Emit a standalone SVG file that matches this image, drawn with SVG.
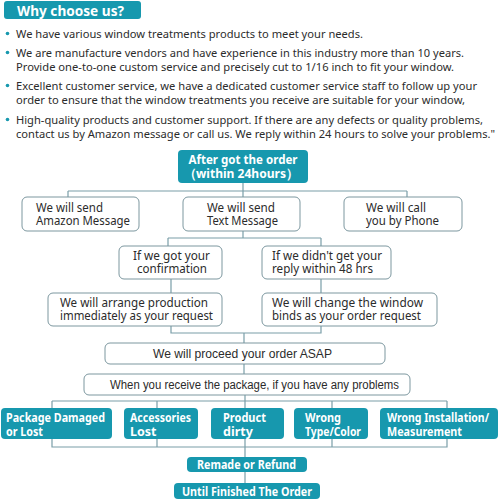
<svg xmlns="http://www.w3.org/2000/svg" width="499" height="500" viewBox="0 0 499 500">
<style>
.body{font-family:"Noto Sans","Liberation Sans",sans-serif;font-size:11.5px;fill:#2b2b2b}
.wt{font-family:"Noto Sans","Liberation Sans",sans-serif;font-size:12.5px;fill:#2b2b2b}
.ar{font-family:"Liberation Sans",Arial,sans-serif;font-size:12px;fill:#2b2b2b}
.bt{font-family:"Noto Sans","Liberation Sans",sans-serif;font-size:12.5px;font-weight:bold;fill:#ffffff}
.wb{fill:#ffffff;stroke:#7c979f;stroke-width:1}
.tb{fill:#1798ae;stroke:none}
.ln{fill:none;stroke:#7a9ea8;stroke-width:1.2}
.dot{fill:#1798ae}
</style>
<rect width="499" height="500" fill="#ffffff"/>
<g id="header">
<rect x="4" y="1" width="137" height="18" rx="3" class="tb"/>
<text x="17" y="15.5" font-family="Noto Sans, Liberation Sans, sans-serif" font-size="15" font-weight="bold" fill="#ffffff" textLength="107" lengthAdjust="spacingAndGlyphs">Why choose us?</text>
</g>
<g id="bullets">
<circle cx="7.5" cy="33.5" r="1.8" class="dot"/>
<circle cx="7.5" cy="52.5" r="1.8" class="dot"/>
<circle cx="7.5" cy="85.5" r="1.8" class="dot"/>
<circle cx="7.5" cy="119.5" r="1.8" class="dot"/>
<text class="body" x="16" y="37.5" textLength="347" lengthAdjust="spacingAndGlyphs">We have various window treatments products to meet your needs.</text>
<text class="body" x="16" y="56.5" textLength="448" lengthAdjust="spacingAndGlyphs">We are manufacture vendors and have experience in this industry more than 10 years.</text>
<text class="body" x="16" y="70.5" textLength="438" lengthAdjust="spacingAndGlyphs">Provide one-to-one custom service and precisely cut to 1/16 inch to fit your window.</text>
<text class="body" x="16" y="89.5" textLength="461" lengthAdjust="spacingAndGlyphs">Excellent customer service, we have a dedicated customer service staff to follow up your</text>
<text class="body" x="16" y="103.5" textLength="449" lengthAdjust="spacingAndGlyphs">order to ensure that the window treatments you receive are suitable for your window,</text>
<text class="body" x="16" y="123.5" textLength="467" lengthAdjust="spacingAndGlyphs">High-quality products and customer support. If there are any defects or quality problems,</text>
<text class="body" x="16" y="137.5" textLength="479" lengthAdjust="spacingAndGlyphs">contact us by Amazon message or call us. We reply within 24 hours to solve your problems."</text>
</g>
<g id="connectors">
<path class="ln" d="M243 183V197M68 191H407M68 191V197M407 191V197"/>
<path class="ln" d="M243 231V238M168 238H321M168 238V246M321 238V246"/>
<path class="ln" d="M171 279V293M321 279V293"/>
<path class="ln" d="M171 326V333H321V326M244 333V343"/>
<path class="ln" d="M244 364V374"/>
<path class="ln" d="M245 395V401M52 401H447M52 401V408M157 401V408M245 401V408M332 401V408M447 401V408"/>
<path class="ln" d="M52 439V447H447V439M157 439V447M245 439V447M332 439V447M245 447V457"/>
<path class="ln" d="M245 472V483"/>
</g>
<g id="n-after">
<rect x="178" y="150" width="130" height="33" rx="4" class="tb"/>
<text class="bt" x="243" y="164" text-anchor="middle" textLength="109" lengthAdjust="spacingAndGlyphs">After got the order</text>
<text class="bt" x="241" y="178" text-anchor="middle" textLength="115" lengthAdjust="spacingAndGlyphs">（within 24hours）</text>
</g>
<g id="n-amazon">
<rect x="22" y="197" width="117" height="34" rx="5" class="wb"/>
<text class="wt" x="36" y="211.5" textLength="67" lengthAdjust="spacingAndGlyphs">We will send</text>
<text class="wt" x="36" y="224.5" textLength="94" lengthAdjust="spacingAndGlyphs">Amazon Message</text>
</g>
<g id="n-text">
<rect x="183" y="197" width="117" height="34" rx="5" class="wb"/>
<text class="wt" x="207" y="211.5" textLength="68" lengthAdjust="spacingAndGlyphs">We will send</text>
<text class="wt" x="207" y="224.5" textLength="71" lengthAdjust="spacingAndGlyphs">Text Message</text>
</g>
<g id="n-phone">
<rect x="344" y="197" width="118" height="34" rx="5" class="wb"/>
<text class="wt" x="366" y="211.5" textLength="60" lengthAdjust="spacingAndGlyphs">We will call</text>
<text class="wt" x="366" y="224.5" textLength="73" lengthAdjust="spacingAndGlyphs">you by Phone</text>
</g>
<g id="n-got">
<rect x="119" y="246" width="103" height="33" rx="5" class="wb"/>
<text class="wt" x="133" y="259.5" textLength="77" lengthAdjust="spacingAndGlyphs">If we got your</text>
<text class="wt" x="137" y="272.5" textLength="70" lengthAdjust="spacingAndGlyphs">confirmation</text>
</g>
<g id="n-didnt">
<rect x="262" y="246" width="129" height="33" rx="5" class="wb"/>
<text class="wt" x="272" y="259.5" textLength="110" lengthAdjust="spacingAndGlyphs">If we didn't get your</text>
<text class="wt" x="272" y="272.5" textLength="101" lengthAdjust="spacingAndGlyphs">reply within 48 hrs</text>
</g>
<g id="n-arrange">
<rect x="48" y="293" width="174" height="33" rx="5" class="wb"/>
<text class="wt" x="60" y="307" textLength="148" lengthAdjust="spacingAndGlyphs">We will arrange production</text>
<text class="wt" x="60" y="320" textLength="153" lengthAdjust="spacingAndGlyphs">immediately as your request</text>
</g>
<g id="n-change">
<rect x="262" y="293" width="175" height="33" rx="5" class="wb"/>
<text class="wt" x="272" y="307" textLength="151" lengthAdjust="spacingAndGlyphs">We will change the window</text>
<text class="wt" x="272" y="320" textLength="149" lengthAdjust="spacingAndGlyphs">binds as your order request</text>
</g>
<g id="n-asap">
<rect x="105" y="343" width="280" height="21" rx="5" class="wb"/>
<text class="ar" x="153" y="358" textLength="179" lengthAdjust="spacingAndGlyphs">We will proceed your order ASAP</text>
</g>
<g id="n-receive">
<rect x="84" y="374" width="326" height="21" rx="5" class="wb"/>
<text class="ar" x="110" y="389" textLength="289" lengthAdjust="spacingAndGlyphs">When you receive the package, if you have any problems</text>
</g>
<g id="n-damaged">
<rect x="1" y="408" width="111" height="31" rx="4" class="tb"/>
<text class="bt" x="6" y="422" textLength="99" lengthAdjust="spacingAndGlyphs">Package Damaged</text>
<text class="bt" x="6" y="435.5" textLength="37" lengthAdjust="spacingAndGlyphs">or Lost</text>
</g>
<g id="n-accessories">
<rect x="124" y="408" width="74" height="31" rx="4" class="tb"/>
<text class="bt" x="130" y="422" textLength="61" lengthAdjust="spacingAndGlyphs">Accessories</text>
<text class="bt" x="130" y="435.5">Lost</text>
</g>
<g id="n-dirty">
<rect x="211" y="408" width="73" height="31" rx="4" class="tb"/>
<text class="bt" x="223" y="422" textLength="43" lengthAdjust="spacingAndGlyphs">Product</text>
<text class="bt" x="223" y="435.5">dirty</text>
</g>
<g id="n-wrongtype">
<rect x="294" y="408" width="74" height="31" rx="4" class="tb"/>
<text class="bt" x="305" y="422" textLength="36" lengthAdjust="spacingAndGlyphs">Wrong</text>
<text class="bt" x="305" y="435.5" textLength="56" lengthAdjust="spacingAndGlyphs">Type/Color</text>
</g>
<g id="n-install">
<rect x="380" y="408" width="118" height="31" rx="4" class="tb"/>
<text class="bt" x="387" y="422" textLength="102" lengthAdjust="spacingAndGlyphs">Wrong Installation/</text>
<text class="bt" x="387" y="435.5" textLength="75" lengthAdjust="spacingAndGlyphs">Measurement</text>
</g>
<g id="n-remade">
<rect x="187" y="457" width="120" height="15" rx="4" class="tb"/>
<text class="bt" x="197" y="469" textLength="99" lengthAdjust="spacingAndGlyphs">Remade or Refund</text>
</g>
<g id="n-until">
<rect x="174" y="483" width="146" height="16" rx="4" class="tb"/>
<text class="bt" x="182" y="496" textLength="130" lengthAdjust="spacingAndGlyphs">Until Finished The Order</text>
</g>
</svg>
